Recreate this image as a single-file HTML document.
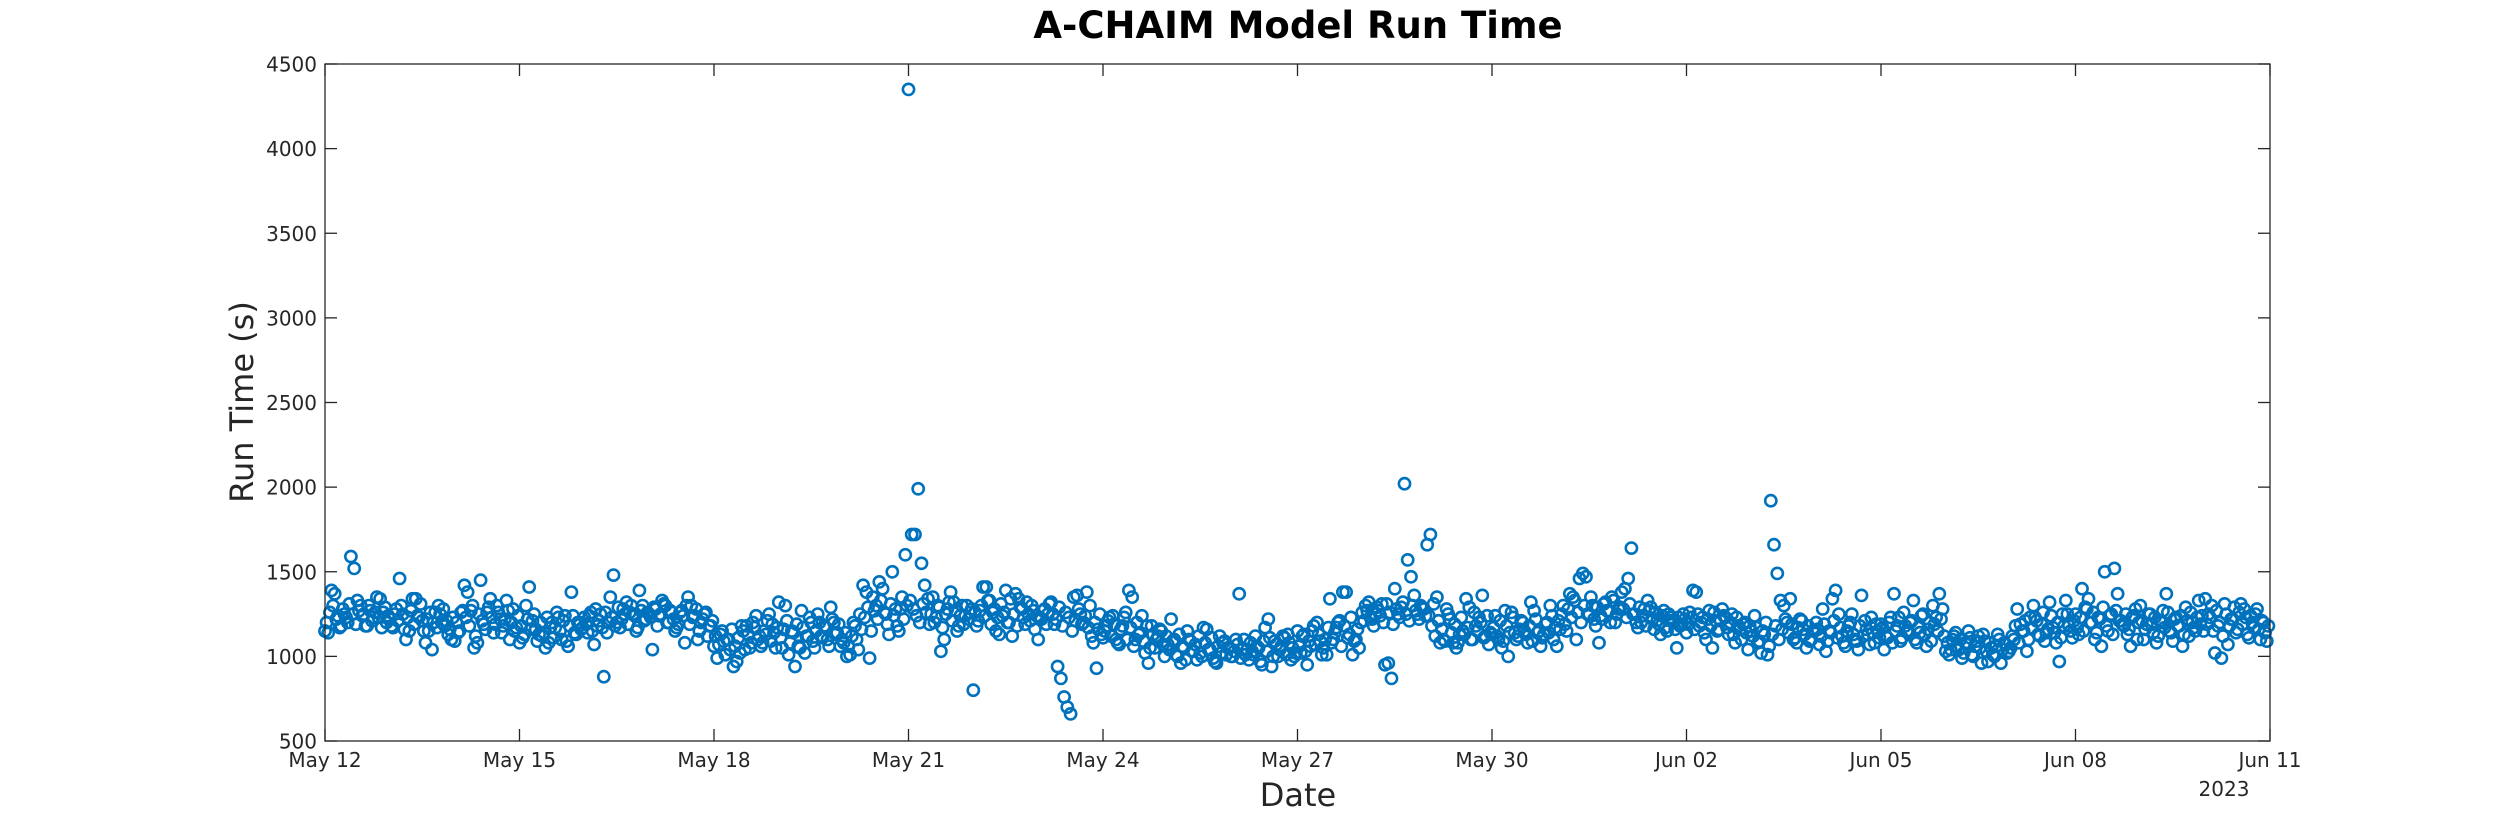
<!DOCTYPE html>
<html><head><meta charset="utf-8"><style>
html,body{margin:0;padding:0;background:#fff;}
svg{display:block;font-family:"DejaVu Sans","Liberation Sans",sans-serif;}
</style></head><body>
<svg id="chart" width="2500" height="833" viewBox="0 0 2500 833" xmlns="http://www.w3.org/2000/svg">
<rect width="2500" height="833" fill="#fff"/>
<text x="1298" y="38" text-anchor="middle" font-size="37" font-weight="bold" fill="#000">A-CHAIM Model Run Time</text>
<g id="points"></g>
<g id="axes"></g>
<text x="1298" y="806" text-anchor="middle" font-size="32" fill="#262626">Date</text>
<text transform="translate(253,402) rotate(-90)" text-anchor="middle" font-size="32" fill="#262626">Run Time (s)</text>
<text x="2224" y="796" text-anchor="middle" font-size="20" fill="#262626">2023</text>
</svg>
<script>
const xTickLabels = ["May 12","May 15","May 18","May 21","May 24","May 27","May 30","Jun 02","Jun 05","Jun 08","Jun 11"];
const xTickDays = [0,3,6,9,12,15,18,21,24,27,30];
const yTicks = [500,1000,1500,2000,2500,3000,3500,4000,4500];
const pointsPerDay = 20;
const runTimes = [
1150,1140,1390,1370,1240,1180,1250,1200,1590,1520,1330,1300,1250,1180,1270,1230,1350,1340,1260,1200,
1220,1170,1280,1460,1250,1100,1150,1340,1340,1230,1210,1080,1150,1040,1260,1300,1200,1180,1130,1100,
1090,1140,1260,1420,1380,1270,1050,1080,1450,1190,1260,1340,1140,1300,1220,1180,1330,1100,1280,1170,
1080,1110,1300,1410,1210,1160,1130,1120,1050,1080,1200,1170,1230,1100,1240,1060,1380,1140,1200,1160,
1230,1140,1260,1070,1180,1250,880,1140,1350,1480,1200,1170,1280,1320,1260,1250,1150,1390,1300,1220,
1250,1040,1280,1240,1330,1300,1200,1260,1150,1190,1270,1080,1350,1300,1240,1100,1200,1250,1120,1180,
1060,990,1130,1090,1100,1040,940,970,1020,1150,1180,1050,1200,1240,1120,1080,1130,1250,1190,1050,
1320,1050,1300,1010,1150,940,1060,1270,1020,1120,1200,1050,1250,1120,1180,1100,1290,1200,1140,1060,
1080,1000,1010,1200,1100,1250,1420,1380,990,1350,1300,1440,1400,1250,1130,1500,1280,1150,1350,1600,
4350,1720,1720,1990,1550,1420,1340,1250,1200,1300,1030,1100,1280,1380,1320,1150,1240,1190,1300,1260,
800,1180,1270,1410,1410,1330,1260,1150,1130,1240,1390,1200,1120,1370,1340,1280,1190,1250,1300,1160,
1100,1220,1280,1250,1320,1190,940,870,760,700,660,1350,1360,1250,1200,1380,1300,1080,930,1250,
1110,1180,1230,1240,1100,1070,1180,1260,1390,1350,1100,1130,1240,1020,960,1180,1050,1120,1150,1000,
1070,1220,1100,1000,960,1050,1150,1090,1030,980,1020,1170,1160,1040,990,960,1120,1080,1010,1050,
1000,1100,1370,1040,1010,980,1030,1120,1050,950,1170,1220,940,1090,1000,1060,1110,1130,980,1000,
1150,1020,1130,950,1060,1180,1200,1090,1050,1010,1340,1100,1170,1210,1380,1380,1130,1010,1100,1050,
1260,1300,1320,1220,1250,1270,1310,950,960,870,1400,1250,1290,2020,1570,1470,1360,1250,1300,1280,
1660,1720,1310,1350,1080,1100,1280,1220,1080,1050,1130,1150,1340,1290,1100,1180,1230,1360,1120,1070,
1130,1240,1100,1050,1270,1000,1260,1140,1120,1210,1150,1080,1320,1270,1140,1060,1130,1200,1300,1100,
1060,1160,1300,1150,1370,1350,1100,1460,1490,1470,1250,1300,1180,1080,1220,1320,1270,1350,1200,1280,
1380,1400,1460,1640,1250,1170,1200,1280,1330,1290,1160,1210,1130,1270,1150,1230,1200,1050,1180,1250,
1140,1260,1390,1380,1180,1230,1100,1270,1050,1210,1160,1280,1230,1130,1250,1080,1180,1100,1200,1040,
1150,1240,1080,1020,1130,1010,1920,1660,1490,1330,1300,1200,1340,1100,1080,1220,1160,1050,1090,1150,
1200,1070,1280,1030,1150,1340,1390,1250,1120,1060,1180,1250,1100,1040,1360,1210,1130,1230,1080,1150,
1190,1040,1110,1230,1370,1180,1090,1260,1150,1200,1330,1080,1140,1250,1060,1200,1300,1230,1370,1280,
1030,1010,1100,1140,1040,990,1080,1150,1010,1060,1120,960,1090,970,1050,1000,1130,960,1080,1020,
1050,1100,1280,1190,1150,1030,1230,1300,1210,1120,1260,1140,1320,1170,1080,970,1250,1330,1180,1110,
1250,1130,1400,1290,1340,1200,1100,1230,1060,1500,1150,1250,1520,1370,1210,1180,1130,1060,1240,1100,
1300,1100,1190,1250,1140,1080,1210,1270,1370,1150,1090,1230,1180,1060,1290,1120,1200,1150,1330,1240,
1340,1250,1300,1020,1180,990,1310,1070,1220,1290,1160,1310,1280,1130,1240,1170,1280,1100,1200,1090
];
const runTimesHalfHour = [
1200,1260,1300,1220,1170,1280,1230,1310,1250,1190,1270,1240,1180,1300,1210,1260,1230,1170,1290,1240,
1180,1250,1210,1300,1160,1230,1270,1190,1240,1310,1150,1220,1260,1200,1170,1250,1280,1210,1160,1230,
1200,1150,1270,1230,1180,1300,1120,1250,1210,1160,1290,1230,1190,1260,1140,1220,1270,1200,1150,1240,
1180,1130,1220,1160,1250,1090,1200,1140,1230,1170,1110,1260,1150,1210,1090,1180,1240,1130,1200,1170,
1190,1240,1150,1280,1210,1170,1260,1200,1230,1180,1290,1220,1250,1190,1300,1240,1170,1270,1210,1260,
1230,1290,1180,1250,1310,1200,1270,1220,1170,1260,1240,1300,1190,1230,1280,1150,1220,1260,1180,1210,
1120,1070,1150,1010,1100,1160,1060,1110,1180,1040,1130,1080,1170,1100,1060,1150,1210,1090,1140,1170,
1110,1160,1210,1080,1140,1190,1050,1170,1120,1230,1090,1150,1200,1110,1170,1060,1220,1130,1190,1100,
1140,1060,1120,1180,1040,1160,1230,1290,1150,1270,1220,1330,1260,1190,1310,1240,1180,1280,1220,1300,
1330,1280,1240,1200,1310,1260,1190,1350,1230,1290,1170,1250,1320,1210,1270,1180,1300,1240,1220,1280,
1260,1210,1300,1240,1330,1190,1280,1230,1310,1260,1200,1340,1250,1180,1290,1230,1320,1210,1270,1240,
1230,1270,1190,1310,1250,1220,1290,1180,1260,1230,1150,1210,1280,1190,1240,1170,1120,1200,1160,1130,
1150,1210,1120,1190,1080,1160,1230,1100,1170,1060,1200,1140,1090,1180,1050,1130,1100,1160,1070,1120,
1040,1090,1010,1130,1060,980,1100,1030,1070,1120,1000,1080,1040,1110,970,1060,1020,1090,1050,1000,
1030,1070,990,1100,1040,1080,1010,1060,970,1090,1030,1110,1000,1070,1040,1120,1010,1080,1050,1020,
1060,1120,1030,1090,1150,1070,1130,1010,1100,1170,1080,1140,1200,1060,1180,1110,1230,1090,1160,1200,
1210,1270,1230,1180,1290,1240,1200,1310,1260,1190,1280,1230,1320,1250,1210,1300,1270,1220,1290,1240,
1240,1180,1120,1210,1160,1090,1250,1140,1190,1080,1230,1130,1170,1100,1260,1150,1200,1110,1240,1140,
1170,1120,1210,1090,1180,1140,1230,1100,1160,1200,1130,1180,1090,1220,1150,1110,1190,1140,1240,1170,
1210,1250,1190,1280,1230,1330,1260,1200,1300,1250,1350,1220,1290,1240,1310,1270,1200,1330,1250,1290,
1280,1230,1310,1250,1200,1290,1240,1180,1270,1220,1260,1190,1240,1170,1250,1210,1160,1230,1190,1220,
1190,1230,1160,1250,1200,1140,1220,1180,1260,1150,1210,1240,1170,1200,1130,1230,1160,1190,1140,1180,
1120,1170,1090,1150,1200,1060,1130,1180,1100,1160,1220,1140,1190,1110,1170,1210,1130,1180,1100,1150,
1160,1120,1190,1090,1140,1210,1110,1170,1080,1150,1200,1130,1090,1180,1120,1160,1070,1140,1190,1110,
1170,1120,1200,1080,1150,1230,1110,1180,1140,1210,1100,1170,1240,1130,1160,1090,1190,1150,1220,1120,
1080,1040,1120,1060,1100,1020,1070,1110,1000,1090,1050,1130,1030,1080,1010,1060,1100,1040,1070,1030,
1120,1180,1080,1150,1210,1100,1170,1230,1130,1190,1090,1160,1240,1140,1200,1110,1180,1250,1150,1210,
1170,1230,1150,1280,1200,1260,1140,1220,1290,1180,1240,1130,1270,1210,1190,1250,1160,1230,1280,1200,
1210,1160,1250,1190,1230,1120,1200,1170,1260,1140,1220,1180,1240,1130,1210,1260,1170,1230,1190,1150,
1190,1230,1150,1270,1200,1120,1250,1180,1220,1140,1260,1190,1230,1110,1200,1250,1160,1210,1140,1180
];
const NS = "http://www.w3.org/2000/svg";
const L = 325, R = 2270, T = 64, B = 741;
const xScale = d => L + (d / 30) * (R - L);
const yScale = v => B - (v - 500) / 4000 * (B - T);

const pts = document.getElementById('points');
function addPoint(d, v) {
  const c = document.createElementNS(NS, 'circle');
  c.setAttribute('cx', xScale(d).toFixed(1));
  c.setAttribute('cy', yScale(v).toFixed(1));
  c.setAttribute('r', 5.6);
  c.setAttribute('fill', 'none');
  c.setAttribute('stroke', '#0072BD');
  c.setAttribute('stroke-width', 2.6);
  
  
  pts.appendChild(c);
}
runTimesHalfHour.forEach((v, i) => addPoint((i + 0.5) / pointsPerDay, v));
runTimes.forEach((v, i) => addPoint(i / pointsPerDay, v));

const ax = document.getElementById('axes');
const box = document.createElementNS(NS, 'rect');
box.setAttribute('x', L); box.setAttribute('y', T);
box.setAttribute('width', R - L); box.setAttribute('height', B - T);
box.setAttribute('fill', 'none'); box.setAttribute('stroke', '#262626'); box.setAttribute('stroke-width', 1.3);


ax.appendChild(box);

function line(x1, y1, x2, y2, name) {
  const l = document.createElementNS(NS, 'line');
  l.setAttribute('x1', x1); l.setAttribute('y1', y1); l.setAttribute('x2', x2); l.setAttribute('y2', y2);
  l.setAttribute('stroke', '#262626'); l.setAttribute('stroke-width', 1.3);
  
  
  ax.appendChild(l);
}
function label(x, y, txt, anchor, name) {
  const t = document.createElementNS(NS, 'text');
  t.setAttribute('x', x); t.setAttribute('y', y);
  t.setAttribute('text-anchor', anchor); t.setAttribute('font-size', 20); t.setAttribute('fill', '#262626');
  t.textContent = txt;
  
  
  ax.appendChild(t);
}
xTickDays.forEach((d, i) => {
  const x = xScale(d);
  line(x, B, x, B - 12, 'x-tick');
  line(x, T, x, T + 12, 'x-tick-top');
  label(x, 767, xTickLabels[i], 'middle', 'x-tick-label');
});
yTicks.forEach(v => {
  const y = yScale(v);
  line(L, y, L + 12, y, 'y-tick');
  line(R, y, R - 12, y, 'y-tick-right');
  label(317, y + 7.5, String(v), 'end', 'y-tick-label');
});
</script>
</body></html>
